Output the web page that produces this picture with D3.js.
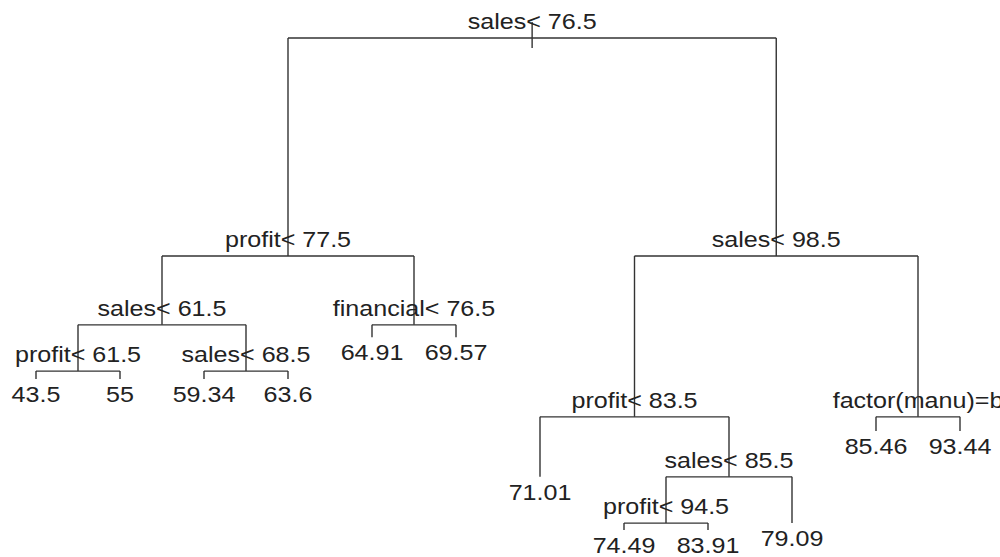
<!DOCTYPE html>
<html>
<head>
<meta charset="utf-8">
<script src="https://cdn.jsdelivr.net/npm/d3@7"></script>
<style>
  html, body { margin: 0; padding: 0; background: #fff; }
  svg { display: block; }
</style>
</head>
<body>
<svg id="chart" width="1000" height="557"></svg>
<script>
// rpart-style node numbering: children of n are 2n and 2n+1
const nodeIds = [1, 2, 3, 4, 5, 6, 7, 8, 9, 10, 11, 12, 13, 14, 15, 16, 17, 18, 19, 26, 27, 52, 53];
const nodeLabels = [
  "sales< 76.5", "profit< 77.5", "sales< 98.5", "sales< 61.5", "financial< 76.5",
  "profit< 83.5", "factor(manu)=b", "profit< 61.5", "sales< 68.5", "64.91", "69.57",
  "71.01", "sales< 85.5", "85.46", "93.44", "43.5", "55", "59.34", "63.6",
  "profit< 94.5", "79.09", "74.49", "83.91"
];
// vertical node positions (relative height)
const nodeHeights = [100, 55.7, 55.7, 41.7, 41.7, 23.0, 23.0, 32.3, 32.3, 39.2, 39.2,
  10.8, 10.8, 20.1, 20.1, 30.7, 30.7, 30.7, 30.7, 1.4, 1.4, 0, 0];

const svg = d3.select("#chart");

const table = nodeIds.map((id, i) => ({
  id: String(id),
  parentId: id === 1 ? null : String(Math.floor(id / 2)),
  label: nodeLabels[i],
  h: nodeHeights[i]
}));
const root = d3.stratify()(table);
root.sort((a, b) => (+a.id) - (+b.id));

// leaf order -> x index, internal node x = mean of its children
let leafIdx = 0;
(function assign(n) {
  if (!n.children) { n.xi = ++leafIdx; return; }
  n.children.forEach(assign);
  n.xi = d3.mean(n.children, c => c.xi);
})(root);

const x = d3.scaleLinear().domain([1, leafIdx]).range([36, 960]);
const y = d3.scaleLinear().domain([0, 100]).range([530, 38]);

const lineColor = "#333";
const g = svg.append("g");

// root tick
g.append("line")
  .attr("x1", x(root.xi)).attr("x2", x(root.xi))
  .attr("y1", y(root.data.h) - 16).attr("y2", y(root.data.h) + 10)
  .attr("stroke", lineColor).attr("stroke-width", 1.4);

root.descendants().filter(n => n.children).forEach(n => {
  const [l, r] = n.children;
  g.append("line")
    .attr("x1", x(l.xi)).attr("x2", x(r.xi))
    .attr("y1", y(n.data.h)).attr("y2", y(n.data.h))
    .attr("stroke", lineColor).attr("stroke-width", 1.4);
  n.children.forEach(c => {
    g.append("line")
      .attr("x1", x(c.xi)).attr("x2", x(c.xi))
      .attr("y1", y(n.data.h)).attr("y2", y(c.data.h))
      .attr("stroke", lineColor).attr("stroke-width", 1.4);
  });
});

const font = "'Liberation Sans', Arial, Helvetica, sans-serif";
root.descendants().forEach(n => {
  const isLeaf = !n.children;
  const ty = isLeaf ? y(n.data.h) + 23 : y(n.data.h) - 9;
  g.append("text")
    .attr("transform", `translate(${x(n.xi)},${ty}) scale(1.14,1)`)
    .attr("text-anchor", "middle")
    .attr("font-family", font)
    .attr("font-size", 22)
    .attr("fill", "#222")
    .text(n.data.label);
});
</script>
</body>
</html>
